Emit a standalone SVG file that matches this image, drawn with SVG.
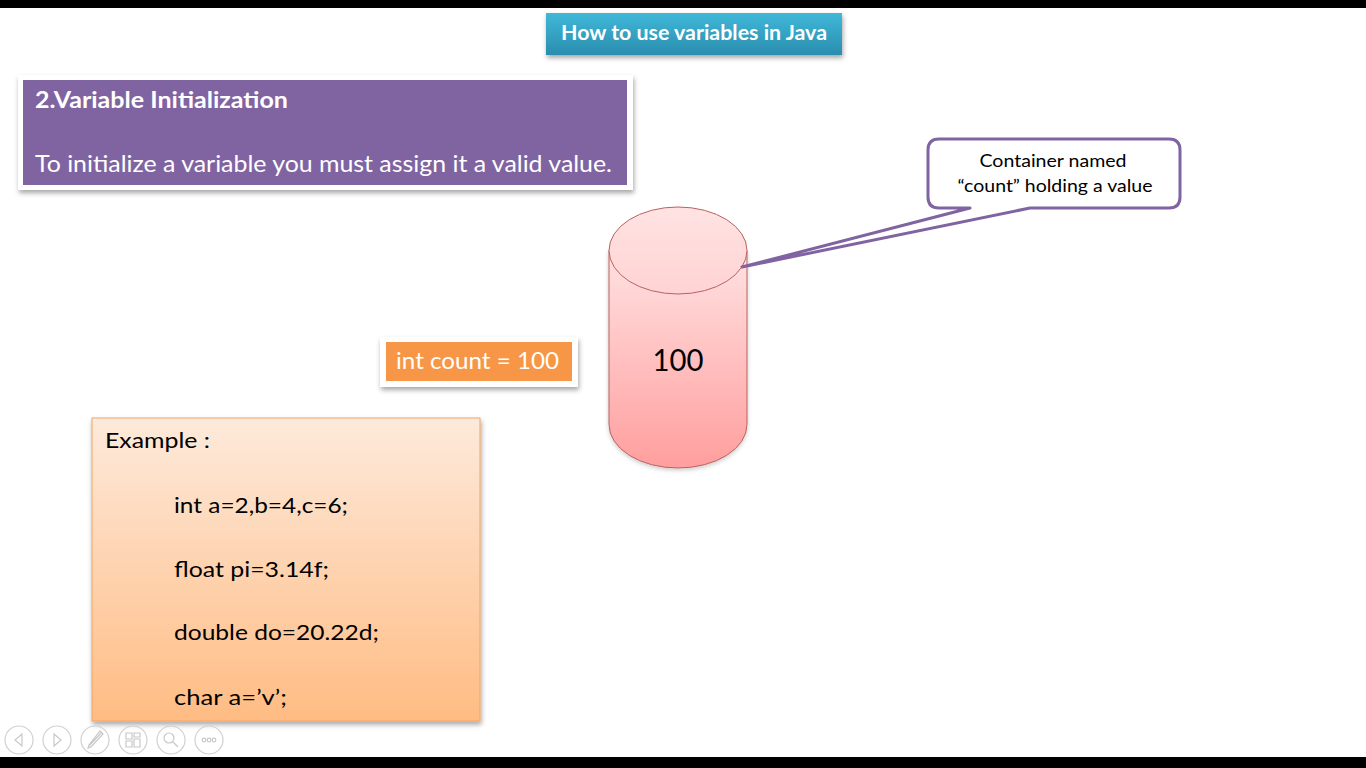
<svg xmlns="http://www.w3.org/2000/svg" width="1366" height="768" viewBox="0 0 1366 768">
  <defs>
    <linearGradient id="gTitle" x1="0" y1="0" x2="0" y2="1">
      <stop offset="0" stop-color="#40B8D8"/>
      <stop offset="1" stop-color="#2A8DAF"/>
    </linearGradient>
    <linearGradient id="gCyl" x1="0" y1="0" x2="0" y2="1">
      <stop offset="0" stop-color="#FFE2E2"/>
      <stop offset="1" stop-color="#FF9E9E"/>
    </linearGradient>
    <linearGradient id="gTop" x1="0" y1="0" x2="0" y2="1">
      <stop offset="0" stop-color="#FFE3E3"/>
      <stop offset="1" stop-color="#FFD3D3"/>
    </linearGradient>
    <linearGradient id="gEx" x1="0" y1="0" x2="0" y2="1">
      <stop offset="0" stop-color="#FDEADB"/>
      <stop offset="1" stop-color="#FFBC83"/>
    </linearGradient>
    <filter id="sh" x="-10%" y="-10%" width="120%" height="130%">
      <feDropShadow dx="1" dy="3" stdDeviation="2.5" flood-color="#000" flood-opacity="0.35"/>
    </filter>
    <filter id="shs" x="-10%" y="-10%" width="120%" height="130%">
      <feDropShadow dx="0" dy="2" stdDeviation="2" flood-color="#000" flood-opacity="0.2"/>
    </filter>
    <style>
      text { font-family: Lato, "Open Sans", "Liberation Sans", sans-serif; }
      .w { fill: #FFFFFF; }
      .k { fill: #000000; }
      .nav circle { fill: none; stroke: #D0D0D0; stroke-width: 1.2; }
      .nav .g { fill: none; stroke: #C8C8C8; stroke-width: 1.2; }
    </style>
  </defs>

  <rect x="0" y="0" width="1366" height="768" fill="#FFFFFF"/>
  <rect x="0" y="0" width="1366" height="8" fill="#000000"/>
  <rect x="0" y="757" width="1366" height="11" fill="#000000"/>

  <g id="title">
    <rect x="546" y="13" width="296" height="42" fill="url(#gTitle)" filter="url(#sh)"/>
    <text x="694" y="40" text-anchor="middle" class="w" font-size="20" font-weight="bold" textLength="266" lengthAdjust="spacingAndGlyphs">How to use variables in Java</text>
  </g>

  <g id="heading">
    <rect x="18" y="75" width="615" height="115" fill="#FFFFFF" filter="url(#sh)"/>
    <rect x="23" y="80" width="604" height="105" fill="#8064A2"/>
    <text x="35" y="108" class="w" font-size="22" font-weight="bold" textLength="253" lengthAdjust="spacingAndGlyphs">2.Variable Initialization</text>
    <text x="35" y="172" class="w" font-size="24" textLength="577" lengthAdjust="spacingAndGlyphs">To initialize a variable you must assign it a valid value.</text>
  </g>

  <g id="cylinder">
    <path d="M609,250.5 V424.5 A69,43.5 0 0 0 747,424.5 V250.5 Z" fill="url(#gCyl)" stroke="#B9625F" stroke-width="1" filter="url(#shs)"/>
    <ellipse cx="678" cy="250.5" rx="69" ry="43.5" fill="url(#gTop)" stroke="#B9625F" stroke-width="1"/>
    <text x="678" y="371" text-anchor="middle" class="k" font-size="31" textLength="51" lengthAdjust="spacingAndGlyphs">100</text>
  </g>

  <g id="callout">
    <path d="M939,139 H1169 Q1180,139 1180,150 V197 Q1180,208 1169,208 H1030 L742,267 L970,208 H939 Q928,208 928,197 V150 Q928,139 939,139 Z" fill="#FFFFFF" stroke="#8064A2" stroke-width="3" stroke-linejoin="round"/>
    <text x="1053" y="167" text-anchor="middle" class="k" font-size="18" textLength="147" lengthAdjust="spacingAndGlyphs">Container named</text>
    <text x="1055" y="192" text-anchor="middle" class="k" font-size="18" textLength="195" lengthAdjust="spacingAndGlyphs">“count” holding a value</text>
  </g>

  <g id="declaration">
    <rect x="380" y="337" width="198" height="50" fill="#FFFFFF" filter="url(#sh)"/>
    <rect x="386" y="342" width="186" height="39" fill="#F79646"/>
    <text x="396" y="369" class="w" font-size="24" textLength="163" lengthAdjust="spacingAndGlyphs">int count = 100</text>
  </g>

  <g id="example">
    <rect x="92" y="418" width="388" height="303" fill="url(#gEx)" stroke="#F0A466" stroke-width="1" filter="url(#sh)"/>
    <text x="105" y="448" class="k" font-size="22" textLength="105" lengthAdjust="spacingAndGlyphs">Example :</text>
    <text x="174" y="513" class="k" font-size="22" textLength="174" lengthAdjust="spacingAndGlyphs">int a=2,b=4,c=6;</text>
    <text x="174" y="577" class="k" font-size="22" textLength="155" lengthAdjust="spacingAndGlyphs">float pi=3.14f;</text>
    <text x="174" y="640" class="k" font-size="22" textLength="205" lengthAdjust="spacingAndGlyphs">double do=20.22d;</text>
    <text x="174" y="705" class="k" font-size="22" textLength="113" lengthAdjust="spacingAndGlyphs">char a=’v’;</text>
  </g>

  <g id="nav" class="nav">
    <circle cx="19" cy="740" r="14"/>
    <path class="g" d="M22,734 L15,740 L22,746 Z"/>
    <circle cx="57" cy="740" r="14"/>
    <path class="g" d="M54,734 L61,740 L54,746 Z"/>
    <circle cx="95" cy="740" r="14"/>
    <path class="g" d="M102,732 L89,746 M100,731 L103,734 L91,747 L88,748 L89,745 Z"/>
    <circle cx="133" cy="740" r="14"/>
    <path class="g" d="M126,733 h6 v6 h-6 z M134,733 h6 v4 h-6 z M126,741 h6 v6 h-6 z M134,739 h6 v8 h-6 z"/>
    <circle cx="171" cy="740" r="14"/>
    <circle class="g" cx="169" cy="738" r="5"/>
    <path class="g" d="M173,742 L178,747"/>
    <circle cx="209" cy="740" r="14"/>
    <circle class="g" cx="204" cy="740" r="1.8"/>
    <circle class="g" cx="209" cy="740" r="1.8"/>
    <circle class="g" cx="214" cy="740" r="1.8"/>
  </g>
</svg>
